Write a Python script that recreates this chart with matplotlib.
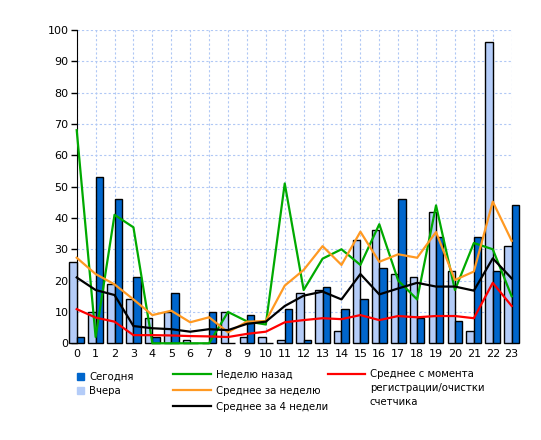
import numpy as np
import matplotlib.pyplot as plt
from matplotlib.lines import Line2D
from matplotlib.patches import Rectangle

hours = list(range(24))
today = [2, 53, 46, 21, 2, 16, 0, 10, 0, 9, 0, 11, 1, 18, 11, 14, 24, 46, 8, 34, 7, 34, 23, 44]
yesterday = [26, 10, 19, 14, 8, 10, 1, 0, 10, 2, 2, 1, 16, 17, 4, 33, 36, 22, 21, 42, 23, 4, 96, 31]
week_ago = [68, 2, 41, 37, 0, 0, 0, 0, 10, 7, 6, 51, 17, 27, 30, 25, 38, 20, 14, 44, 17, 32, 30, 15]
avg_week = [27.3, 22.1, 18.8, 14, 9, 10.4, 6.7, 8.3, 3.5, 6.9, 7.1, 18.4, 23.4, 31, 25, 35.6,
            26, 28.4, 27.3, 35.5, 20.2, 22.9, 45.2, 32.7]
avg_4weeks = [21, 17, 15.4, 5.5, 4.8, 4.5, 3.7, 4.5, 4.2, 6.2, 6.9, 11.9, 15.2, 16.5, 14, 22.1,
              15.6, 17.5, 19.3, 18.1, 18.1, 16.8, 27.1, 20.7]
avg_total = [10.9, 8.2, 6.9, 2.6, 2.6, 2.5, 2.3, 2.2, 2, 3, 3.7, 6.7, 7.4, 8, 7.7, 9,
             7.4, 8.7, 8.3, 8.7, 8.7, 8, 19.3, 11.9]

dark = '#0066cc'
light = '#b4ccf8'
grid_c = '#b0c8f5'

fig = plt.figure(figsize=(5.41, 4.40), dpi=100)
ax = fig.add_axes([0.1418, 0.2198, 0.8040, 0.7122])

x = np.array(hours)
w = 0.39
ax.bar(x - w / 2, yesterday, width=w, color=light, edgecolor='black', linewidth=1, clip_on=False, zorder=2)
ax.bar(x + w / 2, today, width=w, color=dark, edgecolor='black', linewidth=1, clip_on=False, zorder=2)

ax.plot(x, week_ago, color='#00aa00', lw=1.6, zorder=3, clip_on=False)
ax.plot(x, avg_week, color='#ff9922', lw=1.6, zorder=3, clip_on=False)
ax.plot(x, avg_4weeks, color='black', lw=1.6, zorder=3, clip_on=False)
ax.plot(x, avg_total, color='#ff0000', lw=1.6, zorder=3, clip_on=False)

ax.set_xlim(0, 23)
ax.set_ylim(0, 100)
ax.set_xticks(hours)
ax.set_yticks(range(0, 101, 10))
ax.grid(True, color=grid_c, linestyle=(0, (2, 2)), linewidth=0.8, zorder=0)
ax.set_axisbelow(True)
for s in ['top', 'right', 'bottom']:
    ax.spines[s].set_visible(False)
ax.spines['left'].set_color('black')
ax.spines['left'].set_zorder(1)
ax.tick_params(axis='x', length=0, pad=4, labelsize=8)
ax.tick_params(axis='y', length=4, width=1, labelsize=8, pad=2)

# legend drawn in figure pixels
W, H = 541, 440


def fx(px):
    return px / W


def fy(py):
    return 1 - py / H


fs = 7.3
for yy, col, label in [(376.5, dark, 'Сегодня'), (390.5, light, 'Вчера')]:
    fig.patches.append(Rectangle((fx(77), fy(yy + 3.5)), 7 / W, 7 / H, color=col,
                                 transform=fig.transFigure))
    fig.text(fx(89), fy(yy), label, fontsize=fs, va='center', ha='left')

for yy, col, label in [(375, '#00aa00', 'Неделю назад'), (391, '#ff9922', 'Среднее за неделю'),
                       (406.5, 'black', 'Среднее за 4 недели')]:
    fig.lines.append(Line2D([fx(173), fx(211)], [fy(yy - 1), fy(yy - 1)], color=col, lw=1.6,
                            transform=fig.transFigure))
    fig.text(fx(216), fy(yy), label, fontsize=fs, va='center', ha='left')

fig.lines.append(Line2D([fx(328), fx(365)], [fy(374), fy(374)], color='#ff0000', lw=1.6,
                        transform=fig.transFigure))
fig.text(fx(370), fy(369), 'Среднее с момента\nрегистрации/очистки\nсчетчика', fontsize=fs,
         va='top', ha='left', linespacing=1.5)

fig.savefig('out.png', dpi=100)
